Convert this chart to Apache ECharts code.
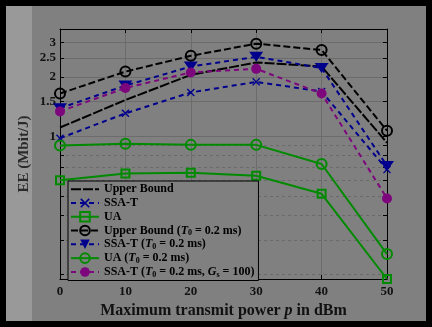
<!DOCTYPE html>
<html><head><meta charset="utf-8">
<script src="https://cdn.jsdelivr.net/npm/echarts@6/dist/echarts.min.js"></script>
<style>html,body{margin:0;padding:0;background:#000;}#c{width:432px;height:327px;}</style>
</head><body><div id="c"></div>
<script>
const powers = [0, 10, 20, 30, 40, 50];
const upperBound   = [1.11, 1.53, 2.05, 2.37, 2.26, 0.93];
const ssaT         = [0.98, 1.31, 1.67, 1.89, 1.69, 0.68];
const ua           = [0.60, 0.65, 0.656, 0.633, 0.513, 0.19];
const upperBoundT0 = [1.65, 2.13, 2.56, 2.95, 2.74, 1.07];
const ssaTT0       = [1.39, 1.81, 2.26, 2.53, 2.22, 0.71];
const uaT0         = [0.90, 0.92, 0.907, 0.907, 0.726, 0.254];
const ssaTT0Gs     = [1.34, 1.76, 2.11, 2.20, 1.65, 0.486];
const yMajorTicks = [1, 1.5, 2, 2.5, 3];
const yMinorTicks = [0.2, 0.3, 0.4, 0.5, 0.6, 0.7, 0.8, 0.9];
const names = ['Upper Bound', 'SSA-T', 'UA', 'Upper Bound (T₀ = 0.2 ms)', 'SSA-T (T₀ = 0.2 ms)', 'UA (T₀ = 0.2 ms)', 'SSA-T (T₀ = 0.2 ms, Gₛ = 100)'];

const FONT = 'Liberation Serif';
const BLACK = '#000000', BLUE = '#00008c', GREEN = '#008a00', PURPLE = '#7d067d';
const NOFILL = 'rgba(0,0,0,0)';
const xPath = 'path://M0,1.2L1.2,0L5,3.8L8.8,0L10,1.2L6.2,5L10,8.8L8.8,10L5,6.2L1.2,10L0,8.8L3.8,5Z';

function mk(name, arr, color, dash, symbol, size, item, extra) {
  return Object.assign({
    name, type: 'line', data: powers.map((p, i) => [p, arr[i]]),
    symbol, symbolSize: size,
    lineStyle: { color, width: 2, type: dash },
    itemStyle: item,
    emphasis: { disabled: true }, animation: false, clip: false
  }, extra || {});
}

const chart = echarts.init(document.getElementById('c'), null, { renderer: 'canvas' });
chart.setOption({
  backgroundColor: '#000',
  animation: false,
  textStyle: { fontFamily: FONT },
  graphic: [
    { type: 'rect', z: -100, silent: true, shape: { x: 6, y: 6, width: 420, height: 315 }, style: { fill: '#808080' } },
    { type: 'rect', z: -99, silent: true, shape: { x: 6, y: 6, width: 26, height: 315 }, style: { fill: '#999999' } }
  ],
  grid: { left: 60, right: 45, top: 29, bottom: 48, containLabel: false },
  xAxis: [
    { type: 'value', min: 0, max: 50, interval: 10, position: 'bottom',
      name: 'Maximum transmit power {i|p} in dBm', nameLocation: 'middle', nameGap: 24,
      nameTextStyle: { color: '#111', fontSize: 16, fontWeight: 'bold', fontFamily: FONT,
        rich: { i: { fontStyle: 'italic', fontSize: 16, fontWeight: 'bold', fontFamily: FONT, color: '#111' } } },
      axisLine: { lineStyle: { color: '#000', width: 1 } },
      axisTick: { inside: true, length: 4, lineStyle: { color: '#000' } },
      axisLabel: { color: '#111', fontSize: 13, fontWeight: 'bold', fontFamily: FONT, margin: 6 },
      splitLine: { show: true, lineStyle: { color: '#6c6c6c', width: 1 } } },
    { type: 'value', min: 0, max: 50, interval: 10, position: 'top',
      axisLine: { lineStyle: { color: '#000', width: 1 } },
      axisTick: { inside: true, length: 4, lineStyle: { color: '#000' } },
      axisLabel: { show: false }, splitLine: { show: false } }
  ],
  yAxis: [
    { type: 'log', min: 0.19, max: 3.5, position: 'left', offset: 0,
      name: 'EE (Mbit/J)', nameLocation: 'middle', nameRotate: 90, nameGap: 28, nameMoveOverlap: false,
      nameTextStyle: { color: '#2a2a2a', fontSize: 15, fontWeight: 'bold', fontFamily: FONT },
      axisLine: { show: true, lineStyle: { color: '#000', width: 1 } },
      axisTick: { show: true, inside: true, length: 4, customValues: yMajorTicks, lineStyle: { color: '#000' } },
      axisLabel: { customValues: yMajorTicks, color: '#111', fontSize: 13, fontWeight: 'bold', fontFamily: FONT, margin: 4,
        formatter: v => String(+v.toFixed(2)) },
      splitLine: { show: true, lineStyle: { color: '#6c6c6c', width: 1 } } },
    { type: 'log', min: 0.19, max: 3.5, position: 'left', offset: 0,
      axisLine: { show: false },
      axisTick: { show: true, inside: true, length: 4, customValues: yMinorTicks, lineStyle: { color: '#000' } },
      axisLabel: { show: false },
      splitLine: { show: true, lineStyle: { color: '#6a6a6a', width: 1, type: [3, 3] } } },
    { type: 'log', min: 0.19, max: 3.5, position: 'right', offset: 0,
      axisLine: { show: true, lineStyle: { color: '#000', width: 1 } },
      axisTick: { show: true, inside: true, length: 4, customValues: yMajorTicks.concat(yMinorTicks), lineStyle: { color: '#000' } },
      axisLabel: { show: false }, splitLine: { show: false } }
  ],
  legend: {
    orient: 'vertical', left: 68, top: 181,
    data: names,
    itemWidth: 28, itemHeight: 12, itemGap: 1,
    padding: [2, 4, 2, 2],
    backgroundColor: '#808080', borderColor: '#000', borderWidth: 1, borderRadius: 0,
    selectedMode: false,
    textStyle: { color: '#000', fontSize: 12, fontWeight: 'bold', fontFamily: FONT, lineHeight: 12.7,
      rich: {
        it: { fontStyle: 'italic', fontWeight: 'bold', fontSize: 12, fontFamily: FONT, color: '#000' },
        sub: { fontSize: 8, fontWeight: 'bold', fontFamily: FONT, color: '#000', padding: [5, 0, 0, 0] }
      } },
    formatter: n => n.replace(/T₀/g, '{it|T}{sub|0}').replace(/Gₛ/g, '{it|G}{sub|s}')
  },
  series: [
    mk(names[0], upperBound, BLACK, [10, 2], 'circle', 1, { color: NOFILL, opacity: 0, borderWidth: 0 }, { showSymbol: false }),
    mk(names[1], ssaT, BLUE, [5, 4], xPath, 8, { color: BLUE, borderWidth: 0 }),
    mk(names[2], ua, GREEN, 'solid', 'rect', 8, { color: NOFILL, borderColor: GREEN, borderWidth: 2 }),
    mk(names[3], upperBoundT0, BLACK, [7, 3], 'circle', 10, { color: NOFILL, borderColor: BLACK, borderWidth: 2 }),
    mk(names[4], ssaTT0, BLUE, [5, 4], 'triangle', [14, 10], { color: BLUE, borderWidth: 0 }, { symbolRotate: 180 }),
    mk(names[5], uaT0, GREEN, 'solid', 'circle', 10, { color: NOFILL, borderColor: GREEN, borderWidth: 2 }),
    mk(names[6], ssaTT0Gs, PURPLE, [5, 4], 'circle', 10, { color: PURPLE, borderWidth: 0 })
  ]
});
</script></body></html>
